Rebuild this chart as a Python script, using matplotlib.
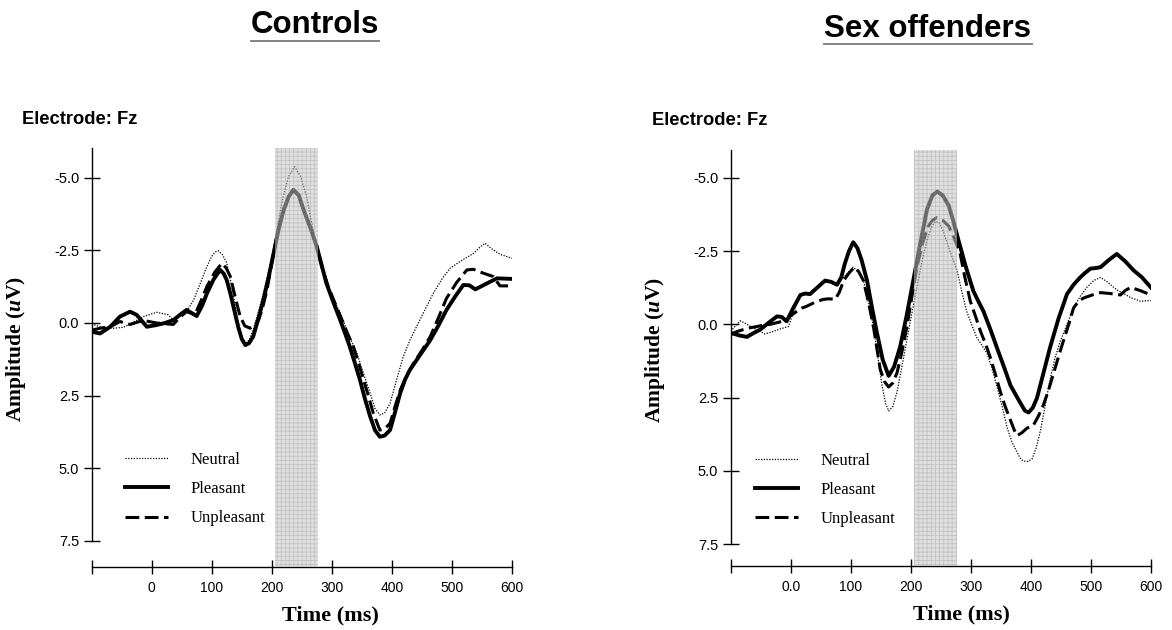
import matplotlib
matplotlib.use("Agg")
import matplotlib.pyplot as plt
from matplotlib.lines import Line2D

# ---------------- data ----------------
ctrl_t_neu = [-100,-86,-64,-47,-33,-14,8,27,36,50,58,70,81,92,100,106,111,118,125,134,142,149,155,162,169,178,186,195,203,211,219,228,238,248,258,266,275,284,294,306,319,330,342,353,364,372,380,388,397,408,419,430,441,455,469,483,497,516,536,546,555,567,580,600]
ctrl_neu = [0.03,0.13,0.18,0.15,0.0,-0.22,-0.37,-0.29,-0.1,-0.3,-0.39,-0.8,-1.37,-1.95,-2.3,-2.45,-2.49,-2.35,-2.07,-1.2,-0.25,0.4,0.7,0.6,0.24,-0.4,-1.03,-1.8,-2.52,-3.5,-4.36,-5.05,-5.39,-5.05,-4.36,-3.5,-2.63,-1.9,-1.25,-0.7,-0.1,0.5,1.05,1.75,2.43,2.95,3.17,3.1,2.77,1.95,1.16,0.6,0.13,-0.45,-1.02,-1.5,-1.89,-2.15,-2.4,-2.6,-2.75,-2.55,-2.37,-2.23]

ctrl_t_ple = [-100,-86,-69,-53,-36,-25,-8,8,22,36,47,58,66,75,84,92,103,114,120,125,131,138,144,150,156,162,169,177,186,195,203,211,219,228,236,245,253,264,275,283,291,302,314,322,330,338,347,355,364,372,380,388,397,405,414,422,430,447,464,478,491,505,519,529,539,557,575,600]
ctrl_ple = [0.3,0.36,0.13,-0.22,-0.39,-0.28,0.13,0.07,0.0,-0.1,-0.28,-0.45,-0.35,-0.24,-0.6,-1.02,-1.5,-1.83,-1.7,-1.48,-1.02,-0.4,0.13,0.55,0.76,0.7,0.47,-0.1,-0.79,-1.6,-2.4,-3.2,-3.84,-4.35,-4.59,-4.4,-3.9,-3.3,-2.63,-2.0,-1.37,-0.75,-0.1,0.35,0.82,1.35,1.97,2.6,3.23,3.7,3.92,3.88,3.69,3.1,2.41,1.95,1.62,1.1,0.59,0.07,-0.45,-0.9,-1.31,-1.3,-1.16,-1.35,-1.54,-1.52]

ctrl_t_unp = [-100,-86,-69,-53,-36,-14,8,36,47,58,72,82,92,105,117,124,131,139,147,155,164,171,178,185,192,203,211,219,228,236,245,253,264,275,284,294,304,314,325,336,347,358,369,380,388,397,405,414,425,436,450,464,478,491,508,525,536,552,569,580,600]
ctrl_unp = [0.25,0.18,0.13,-0.05,0.05,-0.09,0.0,0.05,-0.2,-0.39,-0.3,-0.75,-1.26,-1.75,-2.06,-1.9,-1.6,-0.9,-0.25,0.1,0.18,0.1,-0.1,-0.55,-1.14,-2.4,-3.2,-3.84,-4.35,-4.59,-4.4,-3.9,-3.3,-2.63,-1.9,-1.26,-0.75,-0.25,0.3,0.82,1.55,2.31,3.1,3.69,3.65,3.46,2.9,2.31,1.8,1.39,0.95,0.47,-0.2,-0.85,-1.4,-1.83,-1.85,-1.72,-1.6,-1.28,-1.28]

sex_t_neu = [-100,-92,-84,-73,-62,-43,-30,-18,-4,6,16,32,45,57,67,77,90,104,112,121,130,138,145,152,158,163,170,177,185,193,201,210,218,227,234,241,248,254,265,277,285,293,302,310,318,327,335,343,352,360,368,377,383,388,395,402,409,416,424,432,440,449,460,471,482,493,505,516,527,538,545,552,566,582,600]
sex_neu = [0.24,0.05,-0.12,0.0,0.13,0.33,0.25,0.16,0.08,-0.5,-1.02,-1.08,-1.3,-1.49,-1.45,-1.37,-1.65,-1.95,-1.8,-1.49,-0.7,0.13,1.1,2.09,2.7,2.96,2.8,2.3,1.45,0.57,-0.3,-1.26,-2.1,-2.88,-3.3,-3.52,-3.45,-3.17,-2.5,-1.84,-1.1,-0.44,0.05,0.46,0.7,1.0,1.5,2.09,2.8,3.5,4.0,4.37,4.6,4.67,4.68,4.59,4.2,3.61,2.75,1.87,1.15,0.57,0.0,-0.56,-0.95,-1.26,-1.5,-1.6,-1.45,-1.26,-1.15,-1.08,-0.91,-0.79,-0.81]

sex_t_ple = [-100,-86,-73,-62,-51,-37,-23,-15,-7,4,16,24,32,44,57,67,77,84,90,97,104,111,118,127,135,143,153,163,172,182,193,204,216,227,236,244,253,263,271,279,291,304,312,321,332,343,355,366,380,390,396,403,410,421,432,446,460,471,482,490,499,508,516,530,543,557,571,585,600]
sex_ple = [0.29,0.38,0.43,0.3,0.18,-0.05,-0.27,-0.25,-0.1,-0.55,-1.0,-1.05,-1.03,-1.25,-1.49,-1.45,-1.35,-1.6,-2.07,-2.5,-2.8,-2.6,-2.19,-1.49,-0.6,0.24,1.2,1.76,1.45,0.78,-0.3,-1.49,-2.8,-3.93,-4.4,-4.53,-4.4,-4.05,-3.5,-2.89,-2.0,-1.14,-0.8,-0.44,0.15,0.78,1.45,2.09,2.6,2.95,3.01,2.85,2.52,1.65,0.78,-0.2,-1.03,-1.35,-1.6,-1.75,-1.9,-1.92,-1.95,-2.2,-2.4,-2.15,-1.84,-1.6,-1.25]

sex_t_unp = [-100,-90,-79,-68,-57,-46,-34,-20,-7,0,10,18,27,40,54,64,74,81,88,97,106,113,121,130,138,144,149,156,163,170,177,185,193,201,210,220,229,236,243,253,263,272,282,290,299,308,316,324,332,340,349,357,366,372,377,385,393,404,412,421,430,438,446,454,463,471,480,488,502,516,532,549,557,566,582,600]
sex_unp = [0.35,0.25,0.18,0.12,0.08,0.03,0.0,-0.07,-0.15,-0.3,-0.44,-0.55,-0.62,-0.75,-0.85,-0.87,-0.85,-1.1,-1.49,-1.75,-1.95,-1.8,-1.49,-0.7,0.13,0.9,1.54,1.95,2.14,2.0,1.65,0.95,0.13,-0.85,-1.95,-2.8,-3.35,-3.55,-3.64,-3.55,-3.35,-2.95,-2.42,-1.6,-0.79,-0.25,0.24,0.65,1.11,1.65,2.3,2.8,3.28,3.6,3.8,3.7,3.55,3.45,3.15,2.74,2.2,1.65,1.1,0.57,0.0,-0.56,-0.8,-0.9,-1.0,-1.08,-1.05,-1.0,-1.15,-1.26,-1.15,-1.0]

y_ticks = [-5.0, -2.5, 0.0, 2.5, 5.0, 7.5]
x_ticks = [-100, 0, 100, 200, 300, 400, 500, 600]
ctrl_xlabels = ["", "0", "100", "200", "300", "400", "500", "600"]
sex_xlabels = ["", "0.0", "100", "200", "300", "400", "500", "600"]
window = (205, 277)
conditions = ["Neutral", "Pleasant", "Unpleasant"]
titles = ["Controls", "Sex offenders"]

# ---------------- style ----------------
plt.rcParams["font.family"] = "Liberation Sans"
plt.rcParams["mathtext.fontset"] = "custom"
plt.rcParams["mathtext.it"] = "Liberation Serif:italic:bold"
plt.rcParams["mathtext.rm"] = "Liberation Serif:bold"
plt.rcParams["hatch.linewidth"] = 0.6

styles = {
    "Neutral": dict(color="black", lw=0.9, ls=(0, (1, 1.2))),
    "Pleasant": dict(color="black", lw=2.8, ls="-"),
    "Unpleasant": dict(color="black", lw=2.2, ls=(0, (4.5, 1.8))),
}

fig = plt.figure(figsize=(11.72, 6.3), dpi=100)

panels = [
    dict(rect=[0.0782, 0.100, 0.3586, 0.665], ylim=(8.41, -6.03), xlabels=ctrl_xlabels,
         data={"Neutral": (ctrl_t_neu, ctrl_neu), "Pleasant": (ctrl_t_ple, ctrl_ple),
               "Unpleasant": (ctrl_t_unp, ctrl_unp)},
         leg=(0.079, 0.275), xlab_x=0.569),
    dict(rect=[0.6235, 0.102, 0.3586, 0.660], ylim=(8.24, -5.95), xlabels=sex_xlabels,
         data={"Neutral": (sex_t_neu, sex_neu), "Pleasant": (sex_t_ple, sex_ple),
               "Unpleasant": (sex_t_unp, sex_unp)},
         leg=(0.058, 0.272), xlab_x=0.548),
]

for p in panels:
    ax = fig.add_axes(p["rect"])
    ax.set_xlim(-100, 600)
    ax.set_ylim(*p["ylim"])
    for name in conditions:
        t, v = p["data"][name]
        ax.plot(t, v, label=name, zorder=3, solid_joinstyle="round", **styles[name])
    ax.axvspan(window[0], window[1], facecolor=(0.77, 0.77, 0.77, 0.52),
               edgecolor=(0.55, 0.55, 0.55, 0.35), hatch="++++", lw=0, zorder=5)
    for s in ["top", "right"]:
        ax.spines[s].set_visible(False)
    ax.spines["left"].set_bounds(7.5, p["ylim"][1])
    ax.spines["left"].set_linewidth(1.0)
    ax.spines["bottom"].set_linewidth(1.0)
    ax.set_yticks(y_ticks)
    ax.set_yticklabels([f"{v:.1f}" for v in y_ticks])
    ax.set_xticks(x_ticks)
    ax.set_xticklabels(p["xlabels"])
    ax.tick_params(axis="y", direction="inout", length=12, width=1.0, pad=3, labelsize=10.5)
    ax.tick_params(axis="x", direction="inout", length=10, width=1.0, pad=5, labelsize=10)
    ax.set_ylabel("Amplitude ($\\mathit{u}$V)", family="Liberation Serif",
                  fontweight="bold", fontsize=15.5)
    ax.yaxis.set_label_coords(-0.1516, 0.52)
    ax.set_xlabel("Time (ms)", family="Liberation Serif", fontweight="bold", fontsize=16)
    ax.xaxis.set_label_coords(p["xlab_x"], -0.093)
    handles = [Line2D([], [], **styles[n]) for n in conditions]
    ax.legend(handles, conditions, loc="upper left", bbox_to_anchor=p["leg"],
              frameon=False, prop=dict(family="Liberation Serif", size=12),
              handlelength=2.6, handletextpad=1.35, labelspacing=0.8,
              borderpad=0, borderaxespad=0)
    ax.patch.set_alpha(0)

# electrode labels
fig.text(21.7 / 1172, 1 - 123.5 / 630, "Electrode: Fz", fontsize=13.2, fontweight="bold",
         ha="left", va="baseline")
fig.text(652 / 1172, 1 - 125 / 630, "Electrode: Fz", fontsize=13.2, fontweight="bold",
         ha="left", va="baseline")

# titles with underline
title_pos = [(315 / 1172, 1 - 32.7 / 630, 8.0), (928 / 1172, 1 - 36.7 / 630, 7.3)]
ttexts = []
for title, (tx, ty, off) in zip(titles, title_pos):
    tt = fig.text(tx, ty, title, fontsize=22.5, fontweight="bold", ha="center", va="baseline")
    ttexts.append((tt, off))
fig.canvas.draw()
r = fig.canvas.get_renderer()
for tt, off in ttexts:
    bb = tt.get_window_extent(r)
    yb = tt.get_position()[1] - off / 630
    fig.add_artist(Line2D([bb.x0 / 1172, bb.x1 / 1172], [yb, yb], color="#7a7a7a",
                          lw=1.3, transform=fig.transFigure))

fig.savefig("out.png", dpi=100)
